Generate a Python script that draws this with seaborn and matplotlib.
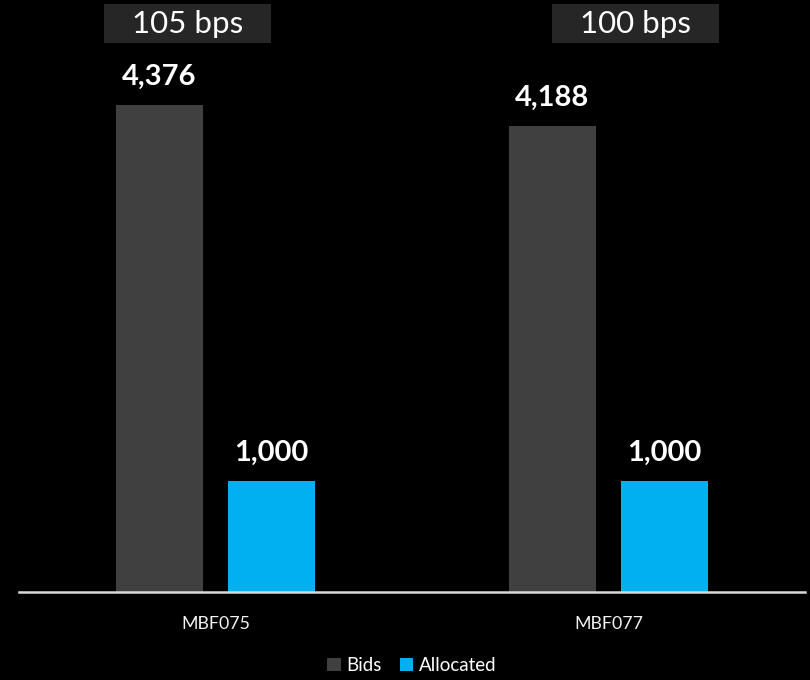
import matplotlib
matplotlib.use("Agg")
import matplotlib.pyplot as plt
import matplotlib.patches as mpatches
import seaborn as sns
import pandas as pd

categories = ["MBF075", "MBF077"]
series = ["Bids", "Allocated"]
bids = [4376, 4188]
allocated = [1000, 1000]
spreads = ["105 bps", "100 bps"]
value_labels_bids = ["4,376", "4,188"]
value_labels_alloc = ["1,000", "1,000"]

df = pd.DataFrame({
    "Bond": categories * 2,
    "Series": [series[0]] * 2 + [series[1]] * 2,
    "Value": bids + allocated,
})

sns.set_theme(style="dark")
plt.rcParams["font.family"] = ["Lato", "DejaVu Sans"]

fig = plt.figure(figsize=(8.1, 6.8), dpi=100, facecolor="black")
ax = fig.add_axes([19 / 810, 88 / 680, 786 / 810, 592 / 680])
ax.set_facecolor("black")

palette = {"Bids": "#404040", "Allocated": "#00B0F0"}
sns.barplot(data=df, x="Bond", y="Value", hue="Series", order=categories,
            hue_order=series, palette=palette, width=0.57, gap=0.22,
            saturation=1, ax=ax, legend=True, linewidth=0, edgecolor="none")

ax.set_ylim(0, 5319)
ax.set_xlim(-0.5, 1.5)
ax.set_xlabel("")
ax.set_ylabel("")
ax.set_yticks([])
ax.grid(False)
for s in ["top", "left", "right"]:
    ax.spines[s].set_visible(False)
ax.spines["bottom"].set_color("#d9d9d9")
ax.spines["bottom"].set_linewidth(1.8)
ax.tick_params(axis="x", colors="#f2f2f2", labelsize=12.8, length=0, pad=17)

for cont, labs in zip(ax.containers, [value_labels_bids, value_labels_alloc]):
    ax.bar_label(cont, labels=labs, padding=11, color="white",
                 fontsize=21, fontweight="bold")

# spread boxes
box_left = [104, 552]
box_w, box_top, box_h = 167, 4, 39
for bl, txt in zip(box_left, spreads):
    rect = mpatches.Rectangle((bl / 810, 1 - (box_top + box_h) / 680),
                              box_w / 810, box_h / 680,
                              transform=fig.transFigure, facecolor="#262626",
                              edgecolor="none", zorder=1)
    fig.add_artist(rect)
    fig.text((bl + box_w / 2) / 810, 1 - (box_top + box_h / 2 + 1) / 680, txt,
             ha="center", va="center", color="white", fontsize=22.5, zorder=2)

leg = ax.legend(loc="center", bbox_to_anchor=(0.5, -0.124),
                bbox_transform=ax.transAxes, ncol=2, frameon=False,
                fontsize=13.5, handlelength=0.7, handleheight=0.7,
                handletextpad=0.3, columnspacing=1.0)
for t in leg.get_texts():
    t.set_color("white")
for h in leg.legend_handles:
    h.set_linewidth(0)
    h.set_edgecolor("none")

fig.savefig("out.png", dpi=100, facecolor="black")
